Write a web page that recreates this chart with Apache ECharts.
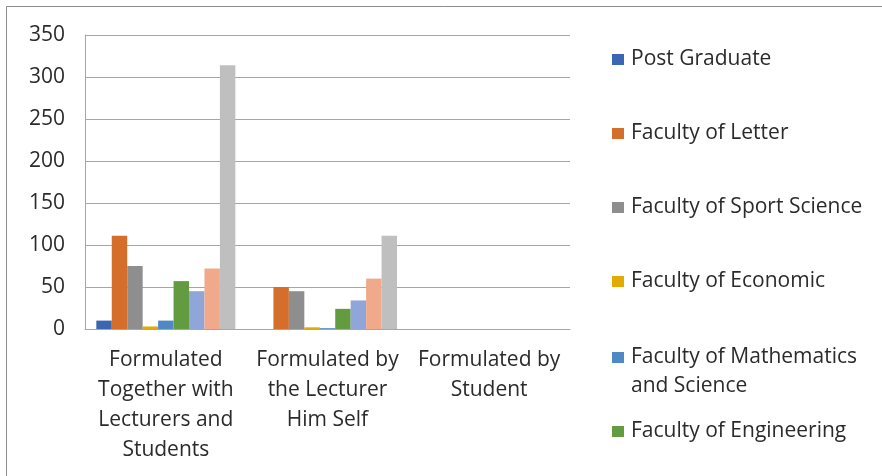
<!DOCTYPE html>
<html>
<head>
<meta charset="utf-8">
<script src="https://cdn.jsdelivr.net/npm/echarts@6/dist/echarts.min.js"></script>
<style>
  html, body { margin: 0; padding: 0; background: #fff; }
  #chart { width: 882px; height: 476px; }
</style>
</head>
<body>
<div id="chart"></div>
<script>
// Who formulates the learning objectives, counted per faculty
const categories = [
  'Formulated\nTogether with\nLecturers and\nStudents',
  'Formulated by\nthe Lecturer\nHim Self',
  'Formulated by\nStudent'
];
const yTicks = [0, 50, 100, 150, 200, 250, 300, 350];

const seriesNames = [
  'Post Graduate',
  'Faculty of Letter',
  'Faculty of Sport Science',
  'Faculty of Economic',
  'Faculty of Mathematics and Science',
  'Faculty of Engineering',
  'Faculty of Social Science',
  'Faculty of Education',
  'Other Faculties'
];
const postGraduate      = [10, 0, 0];
const letter            = [111, 50, 0];
const sportScience      = [75, 45, 0];
const economic          = [3, 2, 0];
const mathScience       = [10, 1, 0];
const engineering       = [57, 24, 0];
const socialScience     = [45, 34, 0];
const education         = [72, 60, 0];
const otherFaculties    = [314, 111, 0];
const seriesValues = [postGraduate, letter, sportScience, economic, mathScience,
                      engineering, socialScience, education, otherFaculties];

const colors = ['#3A66B2', '#D56E2B', '#8E8E8E', '#E3AB00', '#4F89C4',
                '#629B40', '#90A6D8', '#F0A98A', '#BFBFBF'];

// Only the first six series appear in the key
const legendNames = seriesNames.slice(0, 6);
const legendCenters = [57, 131, 205, 279, 355, 429];

const FONT = 'Open Sans';
const FS = 21;
const TEXT = '#2B2B2B';

const chart = echarts.init(document.getElementById('chart'));

const legends = legendNames.map((name, i) => ({
  data: [name],
  left: 612,
  top: legendCenters[i] - 8,
  padding: 0,
  itemWidth: 12,
  itemHeight: 11,
  icon: 'rect',
  selectedMode: false,
  formatter: n => n === 'Faculty of Mathematics and Science' ? 'Faculty of Mathematics' : n,
  textStyle: { fontFamily: FONT, fontSize: FS, color: TEXT, padding: [0, 0, 0, 2] }
}));

chart.setOption({
  animation: false,
  color: colors,
  grid: { left: 85, right: 312, top: 35, bottom: 147, containLabel: false },
  legend: legends,
  graphic: [
    {
      type: 'rect',
      shape: { x: 6.5, y: 6.5, width: 900, height: 500 },
      style: { fill: 'none', stroke: '#8C8C8C', lineWidth: 1 },
      silent: true
    },
    {
      type: 'text',
      left: 631,
      top: 376,
      style: { text: 'and Science', font: FS + 'px ' + FONT, fill: TEXT },
      silent: true
    }
  ],
  xAxis: {
    type: 'category',
    data: categories,
    axisTick: { show: false },
    axisLine: { show: true, lineStyle: { color: '#A6A6A6', width: 1 } },
    axisLabel: {
      interval: 0,
      margin: 16,
      fontFamily: FONT,
      fontSize: FS,
      lineHeight: 30,
      color: TEXT,
      align: 'center'
    }
  },
  yAxis: {
    type: 'value',
    min: yTicks[0],
    max: yTicks[yTicks.length - 1],
    interval: 50,
    axisLine: { show: true, lineStyle: { color: '#A6A6A6', width: 1 } },
    axisTick: { show: false },
    splitLine: { lineStyle: { color: '#A6A6A6', width: 1 } },
    axisLabel: { margin: 20, fontFamily: FONT, fontSize: FS, color: TEXT }
  },
  series: seriesNames.map((name, i) => ({
    name: name,
    type: 'bar',
    data: seriesValues[i],
    barGap: '0%',
    barCategoryGap: '14%',
    itemStyle: { color: colors[i] }
  }))
});
</script>
</body>
</html>
